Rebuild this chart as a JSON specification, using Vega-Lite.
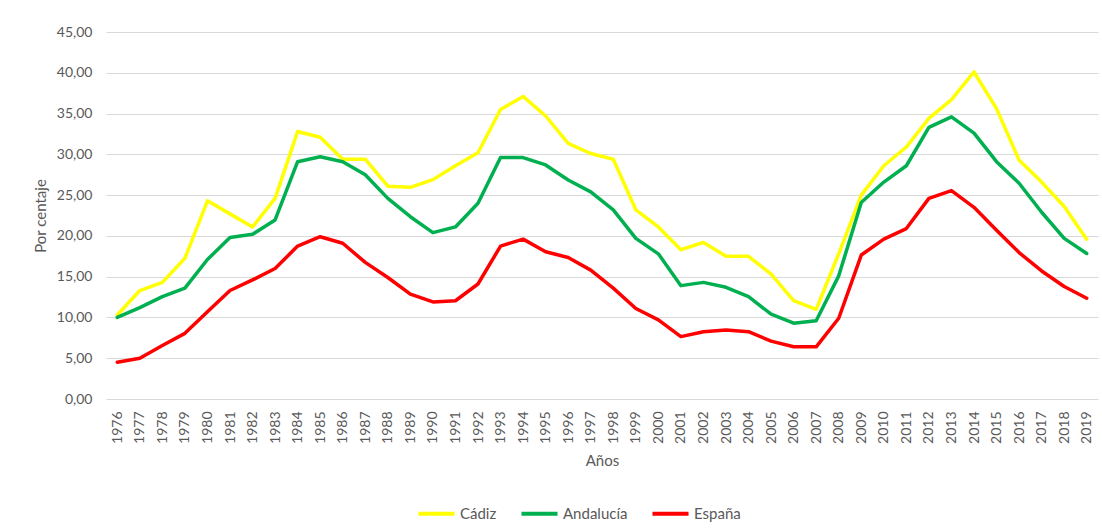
{
  "$schema": "https://vega.github.io/schema/vega-lite/v6.json",
  "width": 992,
  "height": 367,
  "autosize": {"type": "none"},
  "padding": {"left": 106, "top": 32, "right": 4, "bottom": 133},
  "background": "white",
  "data": {
    "values": [
      {"year": "1976", "Cádiz": 10.3, "Andalucía": 10.0, "España": 4.5},
      {"year": "1977", "Cádiz": 13.3, "Andalucía": 11.2, "España": 5.0},
      {"year": "1978", "Cádiz": 14.3, "Andalucía": 12.55, "España": 6.55},
      {"year": "1979", "Cádiz": 17.25, "Andalucía": 13.6, "España": 8.05},
      {"year": "1980", "Cádiz": 24.3, "Andalucía": 17.1, "España": 10.7},
      {"year": "1981", "Cádiz": 22.7, "Andalucía": 19.8, "España": 13.3},
      {"year": "1982", "Cádiz": 21.1, "Andalucía": 20.2, "España": 14.6},
      {"year": "1983", "Cádiz": 24.6, "Andalucía": 21.95, "España": 16.0},
      {"year": "1984", "Cádiz": 32.8, "Andalucía": 29.1, "España": 18.75},
      {"year": "1985", "Cádiz": 32.1, "Andalucía": 29.7, "España": 19.9},
      {"year": "1986", "Cádiz": 29.4, "Andalucía": 29.1, "España": 19.1},
      {"year": "1987", "Cádiz": 29.4, "Andalucía": 27.5, "España": 16.75},
      {"year": "1988", "Cádiz": 26.1, "Andalucía": 24.6, "España": 14.9},
      {"year": "1989", "Cádiz": 25.95, "Andalucía": 22.35, "España": 12.85},
      {"year": "1990", "Cádiz": 26.9, "Andalucía": 20.4, "España": 11.9},
      {"year": "1991", "Cádiz": 28.6, "Andalucía": 21.1, "España": 12.05},
      {"year": "1992", "Cádiz": 30.2, "Andalucía": 24.0, "España": 14.1},
      {"year": "1993", "Cádiz": 35.5, "Andalucía": 29.6, "España": 18.75},
      {"year": "1994", "Cádiz": 37.1, "Andalucía": 29.6, "España": 19.6},
      {"year": "1995", "Cádiz": 34.7, "Andalucía": 28.7, "España": 18.05},
      {"year": "1996", "Cádiz": 31.35, "Andalucía": 26.85, "España": 17.35},
      {"year": "1997", "Cádiz": 30.1, "Andalucía": 25.4, "España": 15.8},
      {"year": "1998", "Cádiz": 29.4, "Andalucía": 23.2, "España": 13.6},
      {"year": "1999", "Cádiz": 23.2, "Andalucía": 19.7, "España": 11.1},
      {"year": "2000", "Cádiz": 21.1, "Andalucía": 17.8, "España": 9.7},
      {"year": "2001", "Cádiz": 18.3, "Andalucía": 13.9, "España": 7.65},
      {"year": "2002", "Cádiz": 19.2, "Andalucía": 14.3, "España": 8.25},
      {"year": "2003", "Cádiz": 17.5, "Andalucía": 13.7, "España": 8.45},
      {"year": "2004", "Cádiz": 17.5, "Andalucía": 12.55, "España": 8.25},
      {"year": "2005", "Cádiz": 15.3, "Andalucía": 10.4, "España": 7.1},
      {"year": "2006", "Cádiz": 12.05, "Andalucía": 9.3, "España": 6.4},
      {"year": "2007", "Cádiz": 11.0, "Andalucía": 9.6, "España": 6.4},
      {"year": "2008", "Cádiz": 17.8, "Andalucía": 15.1, "España": 9.9},
      {"year": "2009", "Cádiz": 25.0, "Andalucía": 24.1, "España": 17.65},
      {"year": "2010", "Cádiz": 28.6, "Andalucía": 26.6, "España": 19.6},
      {"year": "2011", "Cádiz": 30.9, "Andalucía": 28.6, "España": 20.9},
      {"year": "2012", "Cádiz": 34.4, "Andalucía": 33.3, "España": 24.6},
      {"year": "2013", "Cádiz": 36.7, "Andalucía": 34.6, "España": 25.55},
      {"year": "2014", "Cádiz": 40.1, "Andalucía": 32.6, "España": 23.5},
      {"year": "2015", "Cádiz": 35.6, "Andalucía": 29.1, "España": 20.7},
      {"year": "2016", "Cádiz": 29.3, "Andalucía": 26.45, "España": 17.95},
      {"year": "2017", "Cádiz": 26.6, "Andalucía": 22.9, "España": 15.7},
      {"year": "2018", "Cádiz": 23.6, "Andalucía": 19.7, "España": 13.8},
      {"year": "2019", "Cádiz": 19.6, "Andalucía": 17.85, "España": 12.35}
    ]
  },
  "transform": [
    {"fold": ["Cádiz", "Andalucía", "España"], "as": ["serie", "valor"]}
  ],
  "mark": {"type": "line", "strokeWidth": 3.5, "strokeJoin": "round", "strokeCap": "round"},
  "encoding": {
    "x": {
      "field": "year",
      "type": "ordinal",
      "scale": {"type": "point", "padding": 0.5},
      "axis": {
        "title": "Años",
        "labelAngle": -90,
        "labelPadding": 12,
        "ticks": false,
        "domain": false,
        "grid": false,
        "titlePadding": 10
      }
    },
    "y": {
      "field": "valor",
      "type": "quantitative",
      "scale": {"domain": [0, 45], "nice": false},
      "axis": {
        "title": "Por centaje",
        "values": [0, 5, 10, 15, 20, 25, 30, 35, 40, 45],
        "format": ".2f",
        "ticks": false,
        "domain": false,
        "labelPadding": 14,
        "titlePadding": 8
      }
    },
    "color": {
      "field": "serie",
      "type": "nominal",
      "sort": ["Cádiz", "Andalucía", "España"],
      "scale": {"domain": ["Cádiz", "Andalucía", "España"], "range": ["#FFFF00", "#00B050", "#FF0000"]},
      "legend": {
        "title": null,
        "orient": "none",
        "direction": "horizontal",
        "legendX": 310,
        "legendY": 461,
        "symbolType": "stroke",
        "symbolSize": 1300,
        "symbolStrokeWidth": 4,
        "symbolOffset": 0,
        "labelOffset": 3,
        "columnPadding": 16
      }
    }
  },
  "config": {
    "locale": {"number": {"decimal": ",", "thousands": ".", "grouping": [3], "currency": ["", " €"]}},
    "view": {"stroke": null},
    "font": "Lato",
    "axis": {
      "labelFont": "Lato",
      "labelFontSize": 14,
      "labelColor": "#595959",
      "titleFont": "Lato",
      "titleFontSize": 15,
      "titleFontWeight": "normal",
      "titleColor": "#595959",
      "gridColor": "#D9D9D9",
      "gridWidth": 1
    },
    "legend": {
      "labelFont": "Lato",
      "labelFontSize": 15,
      "labelColor": "#595959"
    }
  }
}
